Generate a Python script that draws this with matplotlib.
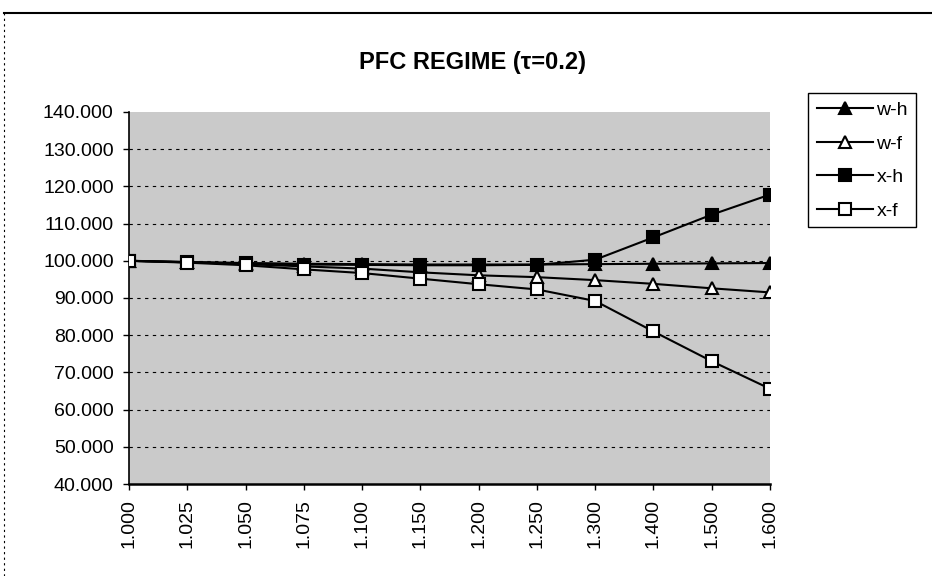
import numpy as np
import matplotlib.pyplot as plt
from matplotlib.lines import Line2D
from matplotlib.patches import Rectangle

plt.rcParams['font.family'] = ['Liberation Sans', 'DejaVu Sans']

# data
categories = ['1.000', '1.025', '1.050', '1.075', '1.100', '1.150',
              '1.200', '1.250', '1.300', '1.400', '1.500', '1.600']
w_h = [100.0, 99.7, 99.4, 99.2, 99.1, 99.0, 99.0, 99.0, 99.1, 99.2, 99.3, 99.4]
w_f = [100.0, 99.6, 99.1, 98.5, 97.9, 96.9, 96.1, 95.6, 94.8, 93.8, 92.6, 91.5]
x_h = [100.0, 99.6, 99.3, 99.0, 98.9, 98.8, 98.8, 98.9, 100.3, 106.3, 112.4, 117.8]
x_f = [100.0, 99.5, 98.8, 97.7, 96.7, 95.2, 93.7, 92.3, 89.2, 81.0, 73.0, 65.6]
y_ticks = [40, 50, 60, 70, 80, 90, 100, 110, 120, 130, 140]

fig = plt.figure(figsize=(9.32, 5.76), dpi=100)
ax = fig.add_axes([0.1384, 0.1597, 0.6878, 0.6459])

x = np.arange(len(categories))
ax.set_facecolor('#cacaca')
for v in y_ticks[1:-1]:
    ax.axhline(v, color='black', lw=0.8, ls=(0, (3, 4)), zorder=1)

series = [('w-h', w_h, '^', 'black'), ('w-f', w_f, '^', 'white'),
          ('x-h', x_h, 's', 'black'), ('x-f', x_f, 's', 'white')]
for name, vals, mk, fc in series:
    ax.plot(x, vals, color='black', lw=1.5, marker=mk, markersize=8,
            markerfacecolor=fc, markeredgecolor='black', markeredgewidth=1.5,
            label=name, zorder=3)

ax.set_xlim(0, len(categories) - 1)
ax.set_ylim(40, 140)
ax.set_yticks(y_ticks)
ax.set_yticklabels(['%.3f' % v for v in y_ticks], fontsize=14)
ax.set_xticks(x)
ax.set_xticklabels(categories, rotation=90, fontsize=14)
ax.tick_params(direction='out', length=4, width=1, pad=7)
for s in ['top', 'right']:
    ax.spines[s].set_visible(False)
ax.spines['left'].set_linewidth(1.2)
ax.spines['bottom'].set_linewidth(1.8)

fig.text(0.5075, 0.892, 'PFC REGIME (\u03c4=0.2)', ha='center', va='center',
         fontsize=17, fontweight='bold')

# legend with a hand-placed frame
leg = fig.legend(loc='upper left', bbox_to_anchor=(0.8766, 0.824), fontsize=14,
                 frameon=False, handlelength=2.9, borderpad=0, borderaxespad=0,
                 labelspacing=0.82, handletextpad=0.15)
fig.add_artist(Rectangle((808 / 932, 1 - 227 / 576), 108 / 932, 134 / 576,
                         transform=fig.transFigure, fill=False,
                         edgecolor='black', lw=1.0))

# chart border (top solid, left dotted)
fig.add_artist(Line2D([0.004, 1.0], [0.977, 0.977], color='black', lw=1.5))
fig.add_artist(Line2D([0.004, 0.004], [0.0, 0.977], color='black', lw=0.8,
                      ls=(0, (2, 3))))

fig.savefig('out.png', dpi=100)
